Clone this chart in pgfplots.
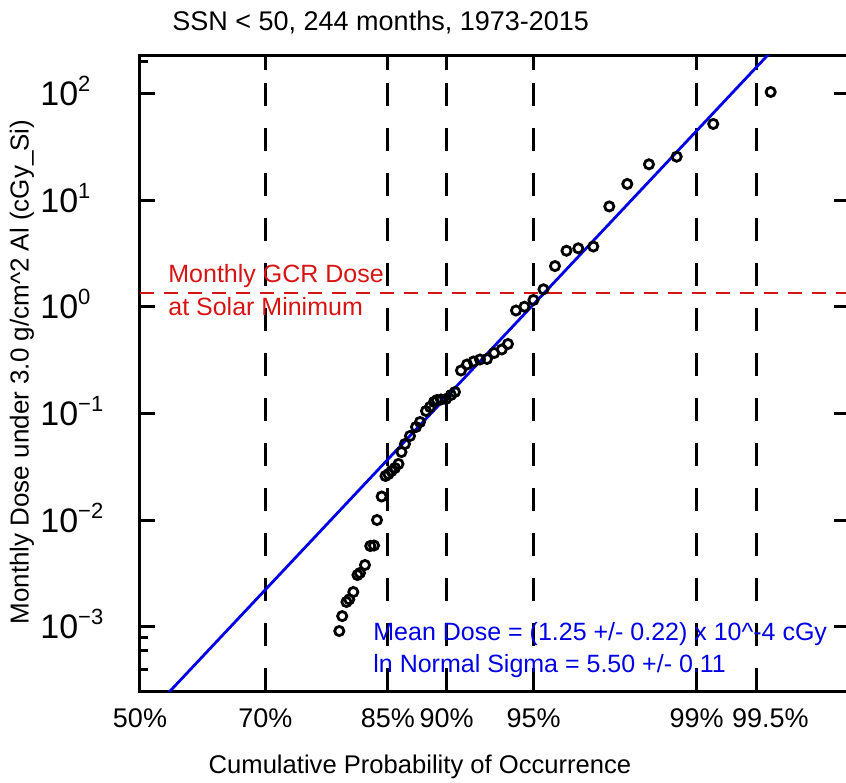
\documentclass[border=0pt]{standalone}
\usepackage{pgfplots}
\usepackage{pgfplotstable}
\pgfplotsset{compat=1.18}
\usepackage{fontspec}
\setmainfont{Liberation Sans}

\definecolor{fitblue}{RGB}{0,0,230}
\definecolor{gcrred}{RGB}{215,20,20}

% decade labels: large mantissa, raised exponent
\newcommand{\dec}[1]{{\fontsize{17}{20}\selectfont 10}\raisebox{7pt}{\fontsize{11}{12}\selectfont #1}}
\newcommand{\txt}{\fontsize{12.5}{15}\selectfont}

% monthly dose vs. normal quantile of the plotting position
\pgfplotstableread{
z      dose
2.6356 103.9
2.3957 52.1
2.2428 25.7
2.1270 21.8
2.0364 14.25
1.9612 8.77
1.8943 3.69
1.8316 3.55
1.7823 3.37
1.7342 2.42
1.6862 1.466
1.6444 1.163
1.6068 1.006
1.5713 0.927
1.5378 0.4496
1.5119 0.3993
1.4802 0.3703
1.4501 0.3253
1.4208 0.3218
1.3941 0.3082
1.3665 0.2888
1.3414 0.2537
1.3163 0.1594
1.2996 0.1494
1.2787 0.1371
1.2578 0.1356
1.2411 0.1341
1.2286 0.1285
1.2119 0.1153
1.1952 0.1058
1.1701 0.0834
1.1534 0.0749
1.1283 0.0617
1.1074 0.0519
1.0928 0.0436
1.0802 0.0337
1.0656 0.0309
1.0510 0.0289
1.0384 0.0271
1.0259 0.0260
1.0100 0.01669
0.9904 0.01004
0.9779 0.00579
0.9624 0.00573
0.9402 0.00380
0.9193 0.00320
0.9089 0.00306
0.8914 0.00212
0.8746 0.00181
0.8629 0.00171
0.8450 0.00126
0.8328 0.000913
}\dosedata

\begin{document}
\txt
\begin{tikzpicture}
\useasboundingbox (-70pt,-45.5pt) rectangle (353pt,345.5pt);
\begin{axis}[
  at={(0,0)}, anchor=south west,
  scale only axis, width=354.5pt, height=318pt,
  xmin=0, xmax=2.963,
  ymode=log, ymin=2.5e-4, ymax=231,
  axis line style={line width=1.5pt},
  tick align=inside,
  major tick length=7.5pt,
  every tick/.style={black, line width=1.5pt},
  xtick={0,0.5244,1.0364,1.2816,1.6449,2.3263,2.5758},
  xticklabels={50\%,70\%,85\%,90\%,95\%,99\%,\hspace*{14pt}99.5\%},
  xmajorgrids,
  major grid style={black, line width=1.5pt, dash pattern=on 11.5pt off 11pt},
  ytick={1e-3,1e-2,1e-1,1,10,100},
  yticklabels={\dec{−3},\dec{−2},\dec{−1},\dec{0},\dec{1},\dec{2}},
  ymajorgrids=false,
  yminorticks=false,
  extra y ticks={4e-4,6e-4,8e-4,200},
  extra y tick labels={},
  extra y tick style={ytick pos=left, major tick length=4pt, ymajorgrids=false},
  tick label style={font=\fontsize{13.5}{15}\selectfont},
  xticklabel style={anchor=base, inner sep=0pt, yshift=-18pt},
  yticklabel style={anchor=base west, inner sep=0pt, xshift=-50pt, yshift=-6pt},
  clip=true,
]
  % fitted lognormal: mean 1.25e-4 cGy, ln sigma 5.50
  \addplot[fitblue, line width=1.4pt] coordinates {(0,1.25e-4) (3,1827.8)};
  % monthly GCR dose at solar minimum
  \addplot[gcrred, line width=1pt, dash pattern=on 7pt off 5pt]
    coordinates {(0,1.353) (2.963,1.353)};
  \addplot[only marks, mark=o, mark size=2.3pt, black,
           mark options={line width=1.4pt}] table[x=z, y=dose] {\dosedata};
\end{axis}
\node[anchor=base west, inner sep=0pt, font=\fontsize{13.5}{16}\selectfont] at (16pt,330pt)
  {SSN < 50, 244 months, 1973-2015};
\node[anchor=base, inner sep=0pt, font=\fontsize{12.8}{15}\selectfont] at (140pt,-41pt)
  {Cumulative Probability of Occurrence};
\node[rotate=90, anchor=center, inner sep=0pt, font=\fontsize{13}{15}\selectfont] at (-59pt,159.5pt)
  {Monthly Dose under 3.0 g/cm\textasciicircum2 Al (cGy\_Si)};
\node[anchor=base west, inner sep=0pt, text=gcrred] at (14pt,204pt) {Monthly GCR Dose};
\node[anchor=base west, inner sep=0pt, text=gcrred] at (14pt,187.5pt) {at Solar Minimum};
\node[anchor=base west, inner sep=0pt, text=fitblue] at (116.5pt,25.5pt)
  {Mean Dose = (1.25 +/- 0.22) x 10\textasciicircum-4 cGy};
\node[anchor=base west, inner sep=0pt, text=fitblue] at (116.5pt,9.5pt)
  {ln Normal Sigma = 5.50 +/- 0.11};
\end{tikzpicture}
\end{document}
